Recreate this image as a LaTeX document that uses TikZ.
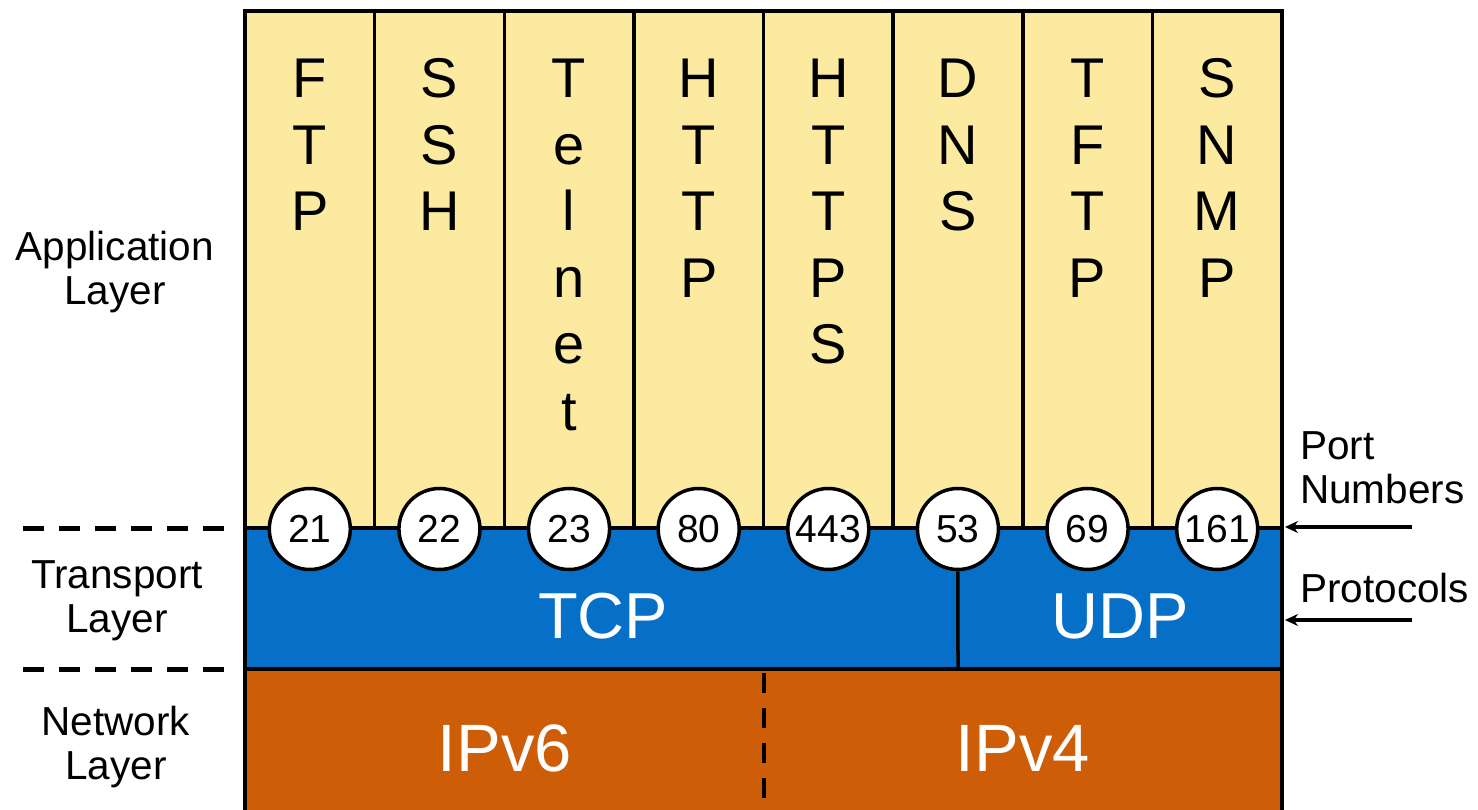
\documentclass[tikz,border=0pt]{standalone}
\usepackage{fontspec}
\setmainfont{Liberation Sans}
\usetikzlibrary{arrows.meta}
\definecolor{appyellow}{RGB}{251,234,160}
\definecolor{tcpblue}{RGB}{6,111,200}
\definecolor{iporange}{RGB}{205,93,6}
\begin{document}
\begin{tikzpicture}[x=1pt,y=-1pt,
  border/.style={line width=4pt},
  sep/.style={line width=3.5pt},
  letter/.style={anchor=base,inner sep=0pt,font=\fontsize{56}{60}\selectfont},
  port/.style={circle,draw,fill=white,line width=3.5pt,minimum size=81pt,inner sep=0pt,font=\fontsize{39}{40}\selectfont},
  big/.style={anchor=base,inner sep=0pt,text=white,font=\fontsize{65}{70}\selectfont},
  side/.style={inner sep=0pt,align=center,font=\fontsize{40.5}{44}\selectfont},
  layerdash/.style={line width=5pt,dash pattern=on 21pt off 15pt},
  pointer/.style={line width=3.5pt,-{Stealth[length=13pt,width=12pt]}}]
\useasboundingbox (0,0) rectangle (1478,810);
% fills
\fill[appyellow] (245,11) rectangle (1282,528);
\fill[tcpblue] (245,528) rectangle (1282,669);
\fill[iporange] (245,669) rectangle (1282,810);
% column separators
\foreach \k in {1,...,7}{
  \draw[sep] ({245+129.625*\k},11) -- ({245+129.625*\k},528);
}
% borders
\draw[border] (243,11) -- (1284,11);
\draw[border] (245,528) -- (1282,528);
\draw[border] (245,669) -- (1282,669);
\draw[border] (245,9) -- (245,810);
\draw[border] (1282,9) -- (1282,810);
% dashed IP separator
\draw[line width=4pt,dash pattern=on 20pt off 15pt] (764,673) -- (764,810);
% application column letters
\foreach \word [count=\c] in {{F,T,P},{S,S,H},{T,e,l,n,e,t},{H,T,T,P},{H,T,T,P,S},{D,N,S},{T,F,T,P},{S,N,M,P}}{
  \foreach \ch [count=\r] in \word {
    \node[letter] (l\c-\r) at ({245+129.625*(\c-0.5)},{98+66.4*(\r-1)}) {\ch};
  }
}
% ports
\foreach \num [count=\c] in {21,22,23,80,443,53,69,161}{
  \node[port] (p\c) at ({245+129.625*(\c-0.5)},529) {\num};
}
\coordinate (udpbot) at (958,669);
\draw[sep] (p6.south) -- (udpbot);
% protocol names
\node[big] (tcp) at (603,638) {TCP};
\node[big] (udp) at (1120,638) {UDP};
\node[big,font=\fontsize{67}{70}\selectfont] (ipv6) at (505,771) {IPv6};
\node[big,font=\fontsize{67}{70}\selectfont] (ipv4) at (1023,771) {IPv4};
% left labels
\node[side] (app) at (115,272) {Application\\Layer};
\node[side] (trn) at (117,601) {Transport\\Layer};
\node[side] (net) at (116,747) {Network\\Layer};
\coordinate (d1a) at (23,528); \coordinate (d1b) at (232,528);
\coordinate (d2a) at (23,669); \coordinate (d2b) at (232,669);
\draw[layerdash] (d1a) -- (d1b);
\draw[layerdash] (d2a) -- (d2b);
% right labels
\node[side,align=left,anchor=west] (portlbl) at (1300,468) {Port\\Numbers};
\node[side,anchor=base west] (protlbl) at (1300,602) {Protocols};
\coordinate (a1s) at (1412,527); \coordinate (a1e) at (1285,527);
\coordinate (a2s) at (1412,620); \coordinate (a2e) at (1285,620);
\draw[pointer] (a1s) -- (a1e);
\draw[pointer] (a2s) -- (a2e);
\end{tikzpicture}
\end{document}
